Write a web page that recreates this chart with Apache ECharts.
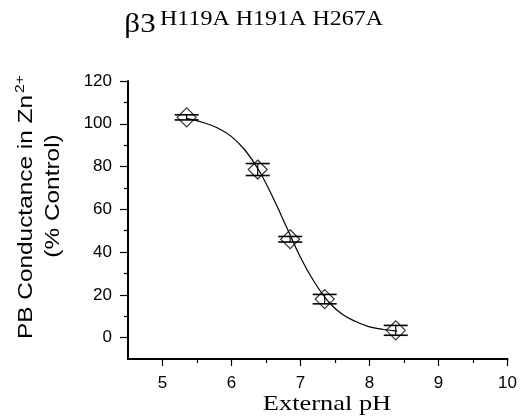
<!DOCTYPE html>
<html>
<head>
<meta charset="utf-8">
<script src="https://cdn.jsdelivr.net/npm/echarts@6/dist/echarts.min.js"></script>
<style>
  html, body { margin: 0; padding: 0; background: #fff; }
  #chart { width: 520px; height: 418px; }
</style>
</head>
<body>
<div id="chart"></div>
<script>
// measured points (pH, % control, error)
var phX = [5.35, 6.38, 6.85, 7.35, 8.38]
var cond = [103, 78.6, 46, 18, 3.4]
var condErr = [1.2, 2.8, 1.3, 2.2, 2.3]

// fitted curve
var curveX = [5.35, 5.6, 5.8, 6.0, 6.2, 6.4, 6.6, 6.8, 7.0, 7.2, 7.4, 7.6, 7.8, 8.0, 8.2, 8.4]
var curveY = [102.5, 100.5, 98, 94, 87.5, 78, 65.5, 51.5, 37.5, 26, 17, 11, 7.5, 5, 3.8, 3]

var xMajor = [5, 6, 7, 8, 9, 10]
var xMinor = [5.5, 6.5, 7.5, 8.5, 9.5]
var yMajor = [0, 20, 40, 60, 80, 100, 120]
var yMinor = [10, 30, 50, 70, 90, 110]

var sans = 'Liberation Sans, Arial, sans-serif'
var serif = 'Liberation Serif, Times New Roman, serif'

var mychart = echarts.init(document.getElementById('chart'))

function axisPair (kind, min, max, major, minor) {
  var main = {
    type: 'value',
    min: min,
    max: max,
    position: kind === 'x' ? 'bottom' : 'left',
    axisLine: { show: true, onZero: false, lineStyle: { color: '#000', width: 2 } },
    axisTick: { show: true, customValues: major, length: kind === 'x' ? 7 : 8, lineStyle: { color: '#000', width: 1.2 } },
    axisLabel: { customValues: major, color: '#000', fontSize: 17, fontFamily: sans, margin: 16 },
    splitLine: { show: false }
  }
  var sub = {
    type: 'value',
    min: min,
    max: max,
    position: kind === 'x' ? 'bottom' : 'left',
    axisLine: { show: false, onZero: false },
    axisTick: { show: true, customValues: minor, length: 4, lineStyle: { color: '#000', width: 1.2 } },
    axisLabel: { show: false },
    splitLine: { show: false }
  }
  return [main, sub]
}

var option = {
  animation: false,
  grid: { left: 128, right: 9, top: 81, bottom: 59 },
  xAxis: axisPair('x', 4.5, 10, xMajor, xMinor),
  yAxis: axisPair('y', -10, 120, yMajor, yMinor),
  graphic: [
    { type: 'text', x: 140, y: 25, scaleX: 1.15, style: { text: 'β3', font: '27px ' + serif, fill: '#000', align: 'center', verticalAlign: 'middle' } },
    { type: 'text', x: 160, y: 20, scaleX: 1.2, style: { text: 'H119A H191A H267A', font: '20px ' + serif, fill: '#000', align: 'left', verticalAlign: 'middle' } },
    { type: 'text', x: 26, y: 217, rotation: Math.PI / 2, scaleX: 1.22, style: { text: 'PB Conductance in Zn', font: '20px ' + sans, fill: '#000', align: 'center', verticalAlign: 'middle' } },
    { type: 'text', x: 20, y: 84, rotation: Math.PI / 2, scaleX: 1.2, style: { text: '2+', font: '13px ' + sans, fill: '#000', align: 'center', verticalAlign: 'middle' } },
    { type: 'text', x: 53, y: 196, rotation: Math.PI / 2, scaleX: 1.22, style: { text: '(% Control)', font: '20px ' + sans, fill: '#000', align: 'center', verticalAlign: 'middle' } },
    { type: 'text', x: 327, y: 404, scaleX: 1.2, style: { text: 'External pH', font: '22px ' + serif, fill: '#000', align: 'center', verticalAlign: 'middle' } }
  ],
  series: [
    {
      type: 'line',
      data: curveX.map(function (x, i) { return [x, curveY[i]] }),
      smooth: 0.4,
      showSymbol: false,
      lineStyle: { color: '#000', width: 1.2 },
      z: 2
    },
    {
      type: 'custom',
      data: phX.map(function (x, i) { return [x, cond[i], condErr[i]] }),
      renderItem: function (params, api) {
        var x = api.value(0)
        var y = api.value(1)
        var e = api.value(2)
        var top = api.coord([x, y + e])
        var bot = api.coord([x, y - e])
        var hw = 12
        var st = { stroke: '#000', lineWidth: 1.6 }
        return {
          type: 'group',
          children: [
            { type: 'line', shape: { x1: top[0], y1: top[1], x2: bot[0], y2: bot[1] }, style: { stroke: '#000', lineWidth: 1.2 } },
            { type: 'line', shape: { x1: top[0] - hw, y1: top[1], x2: top[0] + hw, y2: top[1] }, style: st },
            { type: 'line', shape: { x1: bot[0] - hw, y1: bot[1], x2: bot[0] + hw, y2: bot[1] }, style: st }
          ]
        }
      },
      z: 3
    },
    {
      type: 'scatter',
      data: phX.map(function (x, i) { return [x, cond[i]] }),
      symbol: 'diamond',
      symbolSize: 19,
      itemStyle: { color: 'transparent', borderColor: '#000', borderWidth: 1.2 },
      z: 4
    }
  ]
}
mychart.setOption(option)
</script>
</body>
</html>
